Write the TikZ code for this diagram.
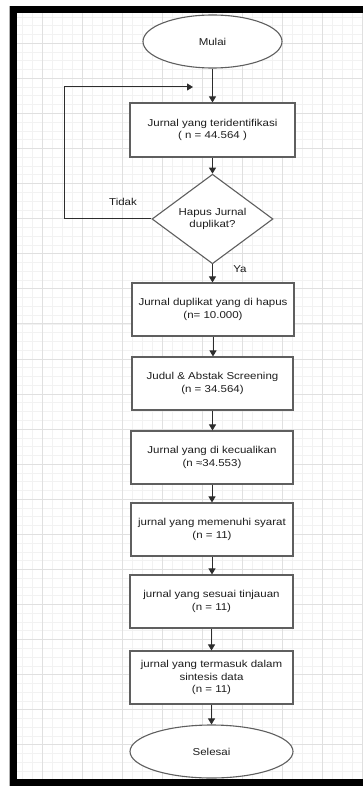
\documentclass[tikz,border=0pt]{standalone}
\usepackage{fontspec}
\setmainfont{Liberation Sans}[FakeStretch=1.15]
\usetikzlibrary{shapes.geometric,arrows.meta}
\definecolor{gmaj}{RGB}{224,224,224}
\definecolor{gmin}{RGB}{242,242,242}
\definecolor{edgec}{RGB}{95,95,95}
\definecolor{connc}{RGB}{45,45,45}
\definecolor{txtc}{RGB}{30,30,30}
\tikzset{
  lbl/.style={font=\fontsize{10}{12.5}\selectfont, text=txtc, align=center},
  procbox/.style={lbl, draw=edgec, line width=1.1pt, fill=white, rectangle, minimum width=163pt, minimum height=53pt, inner sep=1pt},
  termbox/.style={lbl, draw=edgec, line width=1.1pt, fill=white, ellipse, inner sep=0pt},
  decbox/.style={lbl, draw=edgec, line width=1.1pt, fill=white, diamond, minimum width=121pt, minimum height=84pt, inner sep=0pt},
  conn/.style={draw=connc, line width=1pt, -{Triangle[length=6pt,width=7pt]}},
  plainline/.style={draw=connc, line width=1pt}
}
\begin{document}
\begin{tikzpicture}[x=1pt,y=-1pt]
\useasboundingbox (0,0) rectangle (363,786);
\fill[white] (0,0) rectangle (363,786);
% grid
\begin{scope}
\clip (17,13) rectangle (363,779);
\foreach \i in {0,...,36} \draw[gmin, line width=0.8pt] ({2+10*\i},13) -- ({2+10*\i},779);
\foreach \i in {0,...,89} \draw[gmin, line width=0.8pt] (17,{8.2+8.77*\i}) -- (363,{8.2+8.77*\i});
\foreach \i in {0,...,9} \draw[gmaj, line width=0.9pt] ({2+40*\i},13) -- ({2+40*\i},779);
\foreach \i in {0,...,22} \draw[gmaj, line width=0.9pt] (17,{8.2+35.08*\i}) -- (363,{8.2+35.08*\i});
\end{scope}
% frame
\fill[black] (10,6) rectangle (17,786);
\fill[black] (10,6) rectangle (363,13);
\fill[black] (10,779) rectangle (363,786);
\draw[gray!60, line width=0.6pt] (9.3,6) -- (9.3,786);
% nodes
\node[termbox, minimum width=139pt, minimum height=53pt] (mulai) at (212.5,41.5) {Mulai};
\node[procbox, minimum width=165pt, minimum height=54pt] (b1) at (212.5,130) {Jurnal yang teridentifikasi\\( n = 44.564 )};
\node[decbox] (dec) at (212.5,219) {Hapus Jurnal\\duplikat?};
\node[procbox, minimum width=162pt] (b2) at (213,309.5) {Jurnal duplikat yang di hapus\\(n= 10.000)};
\node[procbox, minimum width=161pt] (b3) at (212.5,383.5) {Judul \& Abstak Screening\\(n = 34.564)};
\node[procbox, minimum width=162pt] (b4) at (212,457.5) {Jurnal yang di kecualikan\\(n ≈34.553)};
\node[procbox, minimum width=162pt] (b5) at (212,529.5) {jurnal yang memenuhi syarat\\(n = 11)};
\node[procbox] (b6) at (211.5,601.5) {jurnal yang sesuai tinjauan\\(n = 11)};
\node[procbox] (b7) at (211.5,677.5) {jurnal yang termasuk dalam\\sintesis data\\(n = 11)};
\node[termbox, minimum width=163pt, minimum height=53pt] (selesai) at (211.5,751.5) {Selesai};
% labels
\node[lbl] (tidak) at (123,202) {Tidak};
\node[lbl] (ya) at (240,269) {Ya};
% connectors
\coordinate (lc) at (64,87);
\coordinate (le) at (193,87);
\draw[conn] (mulai) -- (b1);
\draw[conn] (b1) -- (dec);
\draw[conn] (dec.west) -| (lc) -- (le);
\draw[conn] (dec) -- (dec.south |- b2.north);
\draw[conn] (b2) -- (b2.south |- b3.north);
\draw[conn] (b3) -- (b3.south |- b4.north);
\draw[conn] (b4) -- (b4.south |- b5.north);
\draw[conn] (b5) -- (b5.south |- b6.north);
\draw[conn] (b6) -- (b6.south |- b7.north);
\draw[conn] (b7) -- (b7.south |- selesai.north);
\end{tikzpicture}
\end{document}
